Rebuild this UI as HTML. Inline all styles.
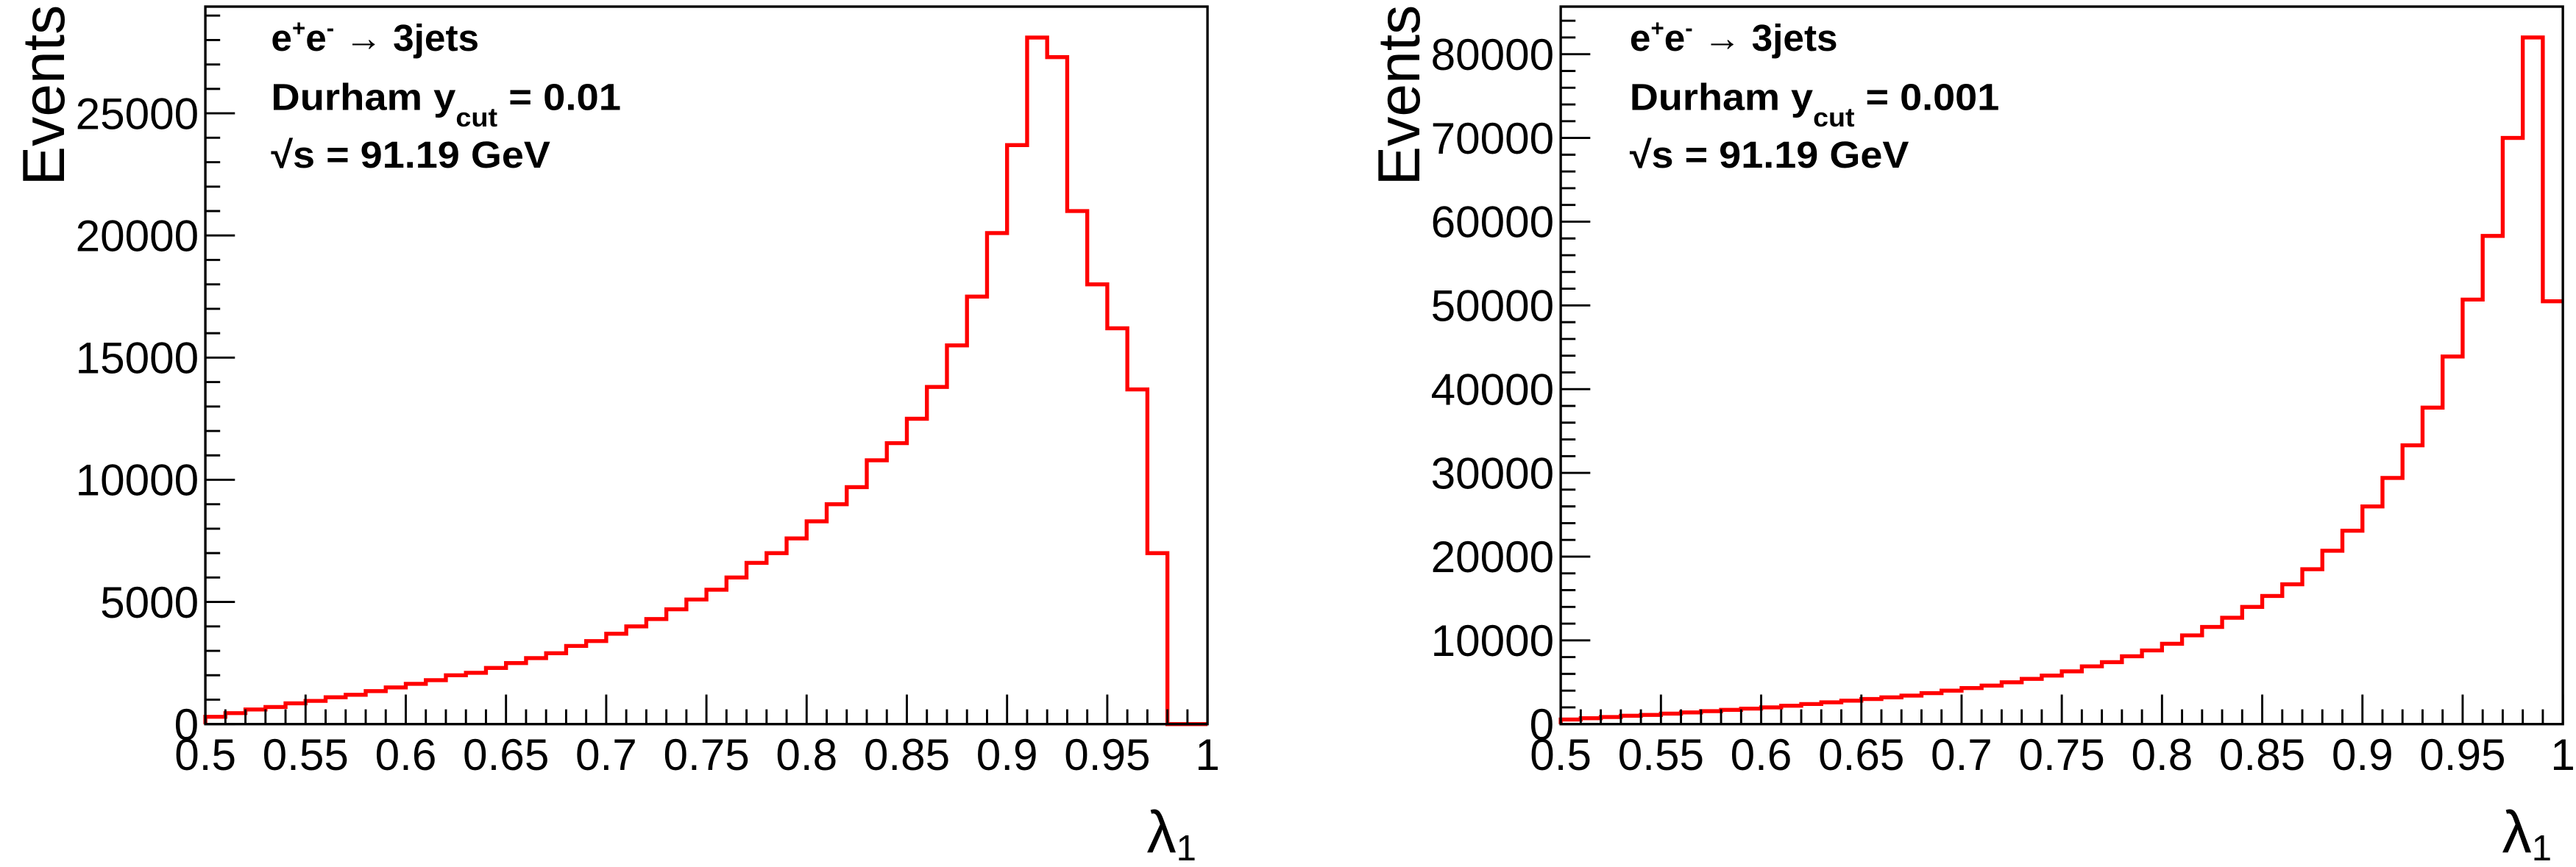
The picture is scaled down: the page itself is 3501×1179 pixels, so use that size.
<!DOCTYPE html>
<html><head><meta charset="utf-8">
<style>
html,body{margin:0;padding:0;background:#fff;}
svg{display:block;}
text{font-family:"Liberation Sans",Arial,sans-serif;}
.a{font-size:23px;font-weight:bold;}
</style></head>
<body>
<svg id="s" xmlns="http://www.w3.org/2000/svg" width="3501" height="1179" viewBox="0 0 1568 528">
<rect width="1568" height="528" fill="#fff"/>
<g id="g"></g>
<!-- left annotations -->
<text class="a" x="165" y="31">e<tspan dy="-9" font-size="14">+</tspan><tspan dy="9">e</tspan><tspan dy="-9" font-size="14">-</tspan><tspan dy="9" font-weight="normal"> → </tspan><tspan>3jets</tspan></text>
<text class="a" x="165" y="67" textLength="213" lengthAdjust="spacingAndGlyphs">Durham y<tspan dy="10" font-size="16">cut</tspan><tspan dy="-10"> = 0.01</tspan></text>
<text class="a" x="165" y="102" textLength="170" lengthAdjust="spacingAndGlyphs">√s = 91.19 GeV</text>
<!-- right annotations -->
<text class="a" x="992" y="31">e<tspan dy="-9" font-size="14">+</tspan><tspan dy="9">e</tspan><tspan dy="-9" font-size="14">-</tspan><tspan dy="9" font-weight="normal"> → </tspan><tspan>3jets</tspan></text>
<text class="a" x="992" y="67" textLength="225" lengthAdjust="spacingAndGlyphs">Durham y<tspan dy="10" font-size="16">cut</tspan><tspan dy="-10"> = 0.001</tspan></text>
<text class="a" x="992" y="102" textLength="170" lengthAdjust="spacingAndGlyphs">√s = 91.19 GeV</text>
<!-- axis titles -->
<text transform="translate(39,3) rotate(-90)" text-anchor="end" font-size="36">Events</text>
<text transform="translate(864,3) rotate(-90)" text-anchor="end" font-size="36">Events</text>
<text x="698" y="519" font-size="36">λ<tspan dy="5" font-size="22">1</tspan></text>
<text x="1523" y="519" font-size="36">λ<tspan dy="5" font-size="22">1</tspan></text>
</svg>
<script>
var NS="http://www.w3.org/2000/svg",g=document.getElementById("g");
function el(t,a,txt){var e=document.createElementNS(NS,t);for(var k in a)e.setAttribute(k,a[k]);if(txt!==undefined)e.textContent=txt;g.appendChild(e);return e;}
var L=[300,450,600,700,850,950,1100,1200,1350,1500,1650,1800,2000,2100,2300,2500,2700,2900,3200,3400,3700,4000,4300,4700,5100,5500,6000,6600,7000,7600,8300,9000,9700,10800,11500,12500,13800,15500,17500,20100,23700,28100,27300,21000,18000,16200,13700,7000,0,0];
var R=[550,700,850,1000,1100,1250,1400,1550,1700,1850,2000,2200,2400,2600,2800,3000,3200,3400,3700,4000,4300,4600,5000,5400,5800,6300,6900,7400,8100,8800,9600,10600,11600,12700,14000,15300,16700,18500,20700,23100,26000,29400,33300,37800,43900,50700,58300,70000,82000,50500];
function panel(x0,data,pxPer,major,minorN){
  var yb=441,yt=4;
  function Y(v){return yb-v*pxPer;}
  var d="M"+x0+","+yb,w=610/50;
  for(var i=0;i<50;i++){var xa=x0+i*w,xb=xa+w,y=Y(data[i]);d+=" L"+xa.toFixed(2)+","+y.toFixed(2)+" L"+xb.toFixed(2)+","+y.toFixed(2);}
  el("path",{d:d,fill:"none",stroke:"#ff0000","stroke-width":"2.4"});
  el("rect",{x:x0,y:yt,width:610,height:yb-yt,fill:"none",stroke:"#000","stroke-width":"1.5"});
  var step=major/minorN;
  for(var v=0;Y(v)>=yt;v+=step){var y=Y(v),isM=Math.abs(v/major-Math.round(v/major))<1e-6;
    el("line",{x1:x0,y1:y,x2:x0+(isM?18:9),y2:y,stroke:"#000","stroke-width":"1.3"});
    if(isM)el("text",{x:x0-4,y:y+9.5,"text-anchor":"end","font-size":"27"},String(Math.round(v)));}
  for(var i=0;i<=50;i++){var x=x0+i*w,isM=i%5==0;
    el("line",{x1:x,y1:yb,x2:x,y2:yb-(isM?18:9),stroke:"#000","stroke-width":"1.3"});}
  var xl=["0.5","0.55","0.6","0.65","0.7","0.75","0.8","0.85","0.9","0.95","1"];
  for(var j=0;j<11;j++)el("text",{x:x0+j*61,y:469,"text-anchor":"middle","font-size":"27"},xl[j]);
}
panel(125,L,74.4/5000,5000,5);
panel(950,R,51/10000,10000,5);
</script>
</body></html>
